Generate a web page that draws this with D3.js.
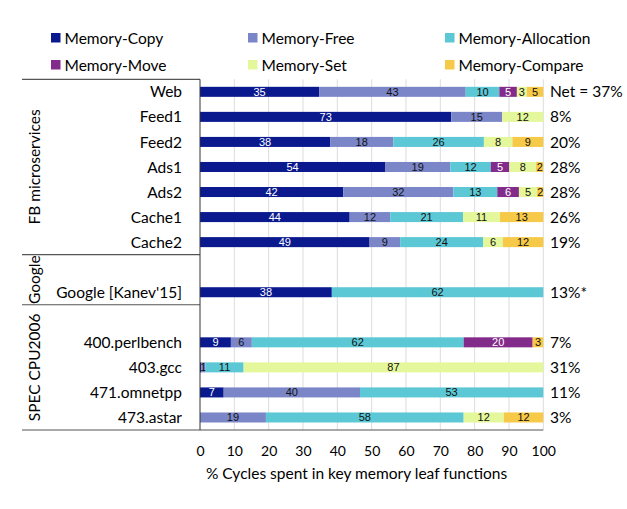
<!DOCTYPE html>
<html>
<head>
<meta charset="utf-8">
<script src="https://cdn.jsdelivr.net/npm/d3@7"></script>
<style>
  html, body { margin: 0; padding: 0; background: #fff; }
  svg { display: block; }
</style>
</head>
<body>
<svg id="chart" width="627" height="509"></svg>
<script>
// ---------- DATA ----------
const slots = ["Web","Feed1","Feed2","Ads1","Ads2","Cache1","Cache2","gap1","Google [Kanev'15]","gap2","400.perlbench","403.gcc","471.omnetpp","473.astar"];
const slotLabels = ["Web","Feed1","Feed2","Ads1","Ads2","Cache1","Cache2","","Google [Kanev'15]","","400.perlbench","403.gcc","471.omnetpp","473.astar"];
const seriesNames = ["Memory-Copy","Memory-Free","Memory-Allocation","Memory-Move","Memory-Set","Memory-Compare"];
const memCopy    = [34.7, 73.2, 37.9, 53.9, 41.7, 43.6, 49.4, null, 38.4, null,  9.0,  0.4,  6.9,  0.0];
const memFree    = [42.7, 14.8, 18.4, 19.0, 32.1, 11.8,  8.9, null,  0.0, null,  6.1,  1.2, 39.7, 19.2];
const memAlloc   = [ 9.8,  0.0, 26.4, 11.8, 12.8, 21.2, 24.2, null, 61.6, null, 61.7, 11.1, 53.4, 57.6];
const memMove    = [ 5.1,  0.0,  0.0,  5.4,  6.3,  0.0,  0.0, null,  0.0, null, 20.1,  0.0,  0.0,  0.0];
const memSet     = [ 2.9, 12.0,  8.3,  7.8,  5.3, 10.8,  5.7, null,  0.0, null,  0.0, 87.3,  0.0, 11.7];
const memCompare = [ 4.8,  0.0,  9.0,  2.1,  1.8, 12.6, 11.8, null,  0.0, null,  3.1,  0.0,  0.0, 11.5];
const netLabels  = ["Net = 37%","8%","20%","28%","28%","26%","19%","","13%*","","7%","31%","11%","3%"];
const groupNames = ["FB microservices","Google","SPEC CPU2006"];
const groupFirst = [0, 7, 9];
const groupLast  = [6, 8, 13];
const xTicks = [0,10,20,30,40,50,60,70,80,90,100];
const xTitle = "% Cycles spent in key memory leaf functions";

// ---------- STYLE ----------
const colors = ["#0a1a8e","#7b86c8","#5cc8d5","#832b8b","#e5f79b","#f7c948"];
const whiteText = [true,false,false,true,false,false];
const labelFont = "Lato, 'Open Sans', sans-serif";
const valueFont = "'Liberation Sans', Arial, sans-serif";

const svg = d3.select("#chart");
const plotLeft = 200, plotRight = 543.3, plotTop = 79.3, plotBottom = 430;

const x = d3.scaleLinear().domain([0, 100]).range([plotLeft, plotRight]);
const y = d3.scaleBand().domain(slots).range([plotTop, plotBottom]).paddingInner(0.6).paddingOuter(0.3);
const step = y.step();

// gridlines
svg.append("g").selectAll("line").data(xTicks.filter(d => d > 0)).join("line")
  .attr("x1", d => x(d)).attr("x2", d => x(d))
  .attr("y1", plotTop).attr("y2", plotBottom)
  .attr("stroke", "#dcdcdc").attr("stroke-width", 1);

// stacked data
const seriesArrays = [memCopy, memFree, memAlloc, memMove, memSet, memCompare];
const rows = slots.map((s, i) => {
  const o = { slot: s };
  seriesNames.forEach((n, k) => { o[n] = seriesArrays[k][i] || 0; });
  o.isGap = seriesArrays[0][i] === null;
  return o;
});
const stack = d3.stack().keys(seriesNames);
const stacked = stack(rows.filter(r => !r.isGap));

const gBars = svg.append("g");
stacked.forEach((layer, k) => {
  const g = gBars.append("g");
  g.selectAll("rect").data(layer.filter(d => d[1] - d[0] > 0)).join("rect")
    .attr("x", d => x(d[0]))
    .attr("y", d => y(d.data.slot))
    .attr("width", d => x(d[1]) - x(d[0]))
    .attr("height", y.bandwidth())
    .attr("fill", colors[k]);
  g.selectAll("text").data(layer.filter(d => Math.round(d[1] - d[0]) >= 1)).join("text")
    .attr("x", d => x((d[0] + d[1]) / 2))
    .attr("y", d => y(d.data.slot) + y.bandwidth() / 2)
    .attr("dy", "0.36em")
    .attr("text-anchor", "middle")
    .attr("font-family", valueFont)
    .attr("font-size", 11)
    .attr("fill", whiteText[k] ? "#ffffff" : "#111111")
    .text(d => d3.format(".0f")(d[1] - d[0]));
});

// net labels
svg.append("g").selectAll("text").data(slots.map((s, i) => ({ s, t: netLabels[i] })).filter(d => d.t)).join("text")
  .attr("x", 550)
  .attr("y", d => y(d.s) + y.bandwidth() / 2)
  .attr("dy", "0.36em")
  .attr("font-family", labelFont)
  .attr("font-size", 15.5)
  .attr("fill", "#000")
  .text(d => d.t);

// category labels
svg.append("g").selectAll("text").data(slots.map((s, i) => ({ s, t: slotLabels[i] })).filter(d => d.t)).join("text")
  .attr("x", 182)
  .attr("y", d => y(d.s) + y.bandwidth() / 2)
  .attr("dy", "0.36em")
  .attr("text-anchor", "end")
  .attr("font-family", labelFont)
  .attr("font-size", 15.5)
  .attr("fill", "#000")
  .text(d => d.t);

// group separators
const boundaries = [plotTop].concat(groupLast.map(i => plotTop + (i + 1) * step));
svg.append("g").selectAll("line").data(boundaries).join("line")
  .attr("x1", 22).attr("x2", (d, i) => i === boundaries.length - 1 ? plotRight : plotLeft)
  .attr("y1", d => d).attr("y2", d => d)
  .attr("stroke", "#555").attr("stroke-width", 1.2);

// y axis line
svg.append("line").attr("x1", plotLeft).attr("x2", plotLeft)
  .attr("y1", plotTop).attr("y2", plotBottom)
  .attr("stroke", "#333").attr("stroke-width", 1);

// group labels
svg.append("g").selectAll("text").data(groupNames).join("text")
  .attr("transform", (d, i) => {
    const cy = plotTop + ((groupFirst[i] + groupLast[i] + 1) / 2) * step;
    return `translate(34,${cy}) rotate(-90)`;
  })
  .attr("dy", "0.36em")
  .attr("text-anchor", "middle")
  .attr("font-family", labelFont)
  .attr("font-size", 15.5)
  .attr("fill", "#000")
  .text(d => d);

// x axis tick labels
const xAxis = d3.axisBottom(x).tickValues(xTicks).tickSize(0).tickPadding(0);
const gx = svg.append("g").attr("transform", `translate(0,${plotBottom})`).call(xAxis);
gx.select(".domain").remove();
gx.selectAll("text")
  .attr("y", 21).attr("dy", "0.36em")
  .attr("font-family", labelFont).attr("font-size", 14).attr("fill", "#000");

// x title
svg.append("text")
  .attr("x", 356.5).attr("y", 473.5).attr("dy", "0.36em")
  .attr("text-anchor", "middle")
  .attr("font-family", labelFont).attr("font-size", 15.5).attr("fill", "#000")
  .text(xTitle);

// legend
const legendX = [51, 248, 445];
const legendY = [38, 65];
const lg = svg.append("g").selectAll("g").data(seriesNames).join("g")
  .attr("transform", (d, i) => `translate(${legendX[i % 3]},${legendY[Math.floor(i / 3)]})`);
lg.append("rect").attr("x", 0).attr("y", -5).attr("width", 9.5).attr("height", 9.5)
  .attr("fill", (d, i) => colors[i]);
lg.append("text").attr("x", 13.5).attr("y", 0).attr("dy", "0.36em")
  .attr("font-family", labelFont).attr("font-size", 15.5).attr("fill", "#000")
  .text(d => d);
</script>
</body>
</html>
